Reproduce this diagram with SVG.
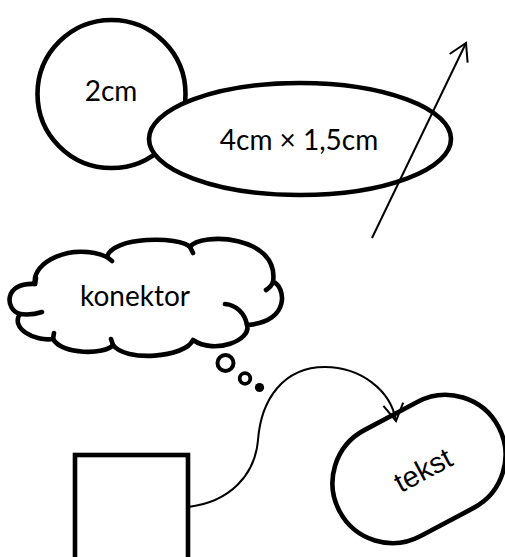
<svg xmlns="http://www.w3.org/2000/svg" width="505" height="557" viewBox="0 0 505 557">
<style>
.shape{fill:#fff;stroke:#000;stroke-width:4.6}
.tick{fill:none;stroke:#000;stroke-width:4.6;stroke-linecap:round}
.cal{font-family:Lato,"Open Sans",sans-serif;font-size:28px;fill:#000}
.ari{font-family:"Liberation Sans",Arial,sans-serif;font-size:29px;fill:#000}
.conn{fill:none;stroke:#000;stroke-width:2}
</style>
<defs>
<marker id="arr" markerUnits="userSpaceOnUse" markerWidth="24" markerHeight="24" refX="0" refY="0" orient="auto" overflow="visible">
<path d="M-17,-10 L0,0 L-17,10" fill="none" stroke="#000" stroke-width="2" stroke-linejoin="miter"/>
</marker>
</defs>
<rect width="505" height="557" fill="#fff"/>
<g id="circle2cm">
<circle class="shape" cx="111.5" cy="94" r="74"/>
<text class="cal" x="111" y="101" text-anchor="middle">2cm</text>
</g>
<g id="ellipse">
<ellipse class="shape" cx="300" cy="139" rx="151" ry="56"/>
<text class="cal" x="299" y="150" text-anchor="middle">4cm × 1,5cm</text>
</g>
<g id="cloud">
<path class="shape" stroke-linejoin="round" d="M35,284 C31,262 72,242 107,257 C112,236 180,236 190,247 C200,232 280,235 273,282 C285,285 292,322 247,325 C252,340 215,355 193,340 C185,358 125,362 113,345 C105,355 62,355 53,339 C35,342 10,328 20,314 C5,310 3,282 35,284 Z"/>
<path class="tick" d="M20,314 C28,315 36,314 42,312 M53,339 L54,333 M113,345 L111,339 M107,257 L112,261 M190,247 L193,253 M35,284 L36,278 M273,282 C272,285 269,288 266,290 M247,325 C245,313 236,305 225,304"/>
<text class="cal" x="135" y="306" text-anchor="middle">konektor</text>
<circle cx="225.5" cy="363" r="8" fill="none" stroke="#000" stroke-width="4"/>
<circle cx="245" cy="378.5" r="5.3" fill="none" stroke="#000" stroke-width="3.8"/>
<circle cx="259.5" cy="387.5" r="4.6" fill="#000"/>
</g>
<g id="rect">
<rect class="shape" x="75" y="455" width="113" height="130"/>
</g>
<g id="capsule">
<rect class="shape" x="329" y="409" width="180" height="120" rx="60" ry="60" transform="rotate(-28 419 469)"/>
<text class="ari" x="423" y="480" text-anchor="middle" transform="rotate(-28 423 470)">tekst</text>
</g>
<g id="connectors">
<path class="conn" d="M372,238 L466,43" marker-end="url(#arr)"/>
<path class="conn" d="M188,507 C230,502 255,475 258,440 C261,400 283,367 325,367 C360,367 391,390 396,421" marker-end="url(#arr)"/>
</g>
</svg>
